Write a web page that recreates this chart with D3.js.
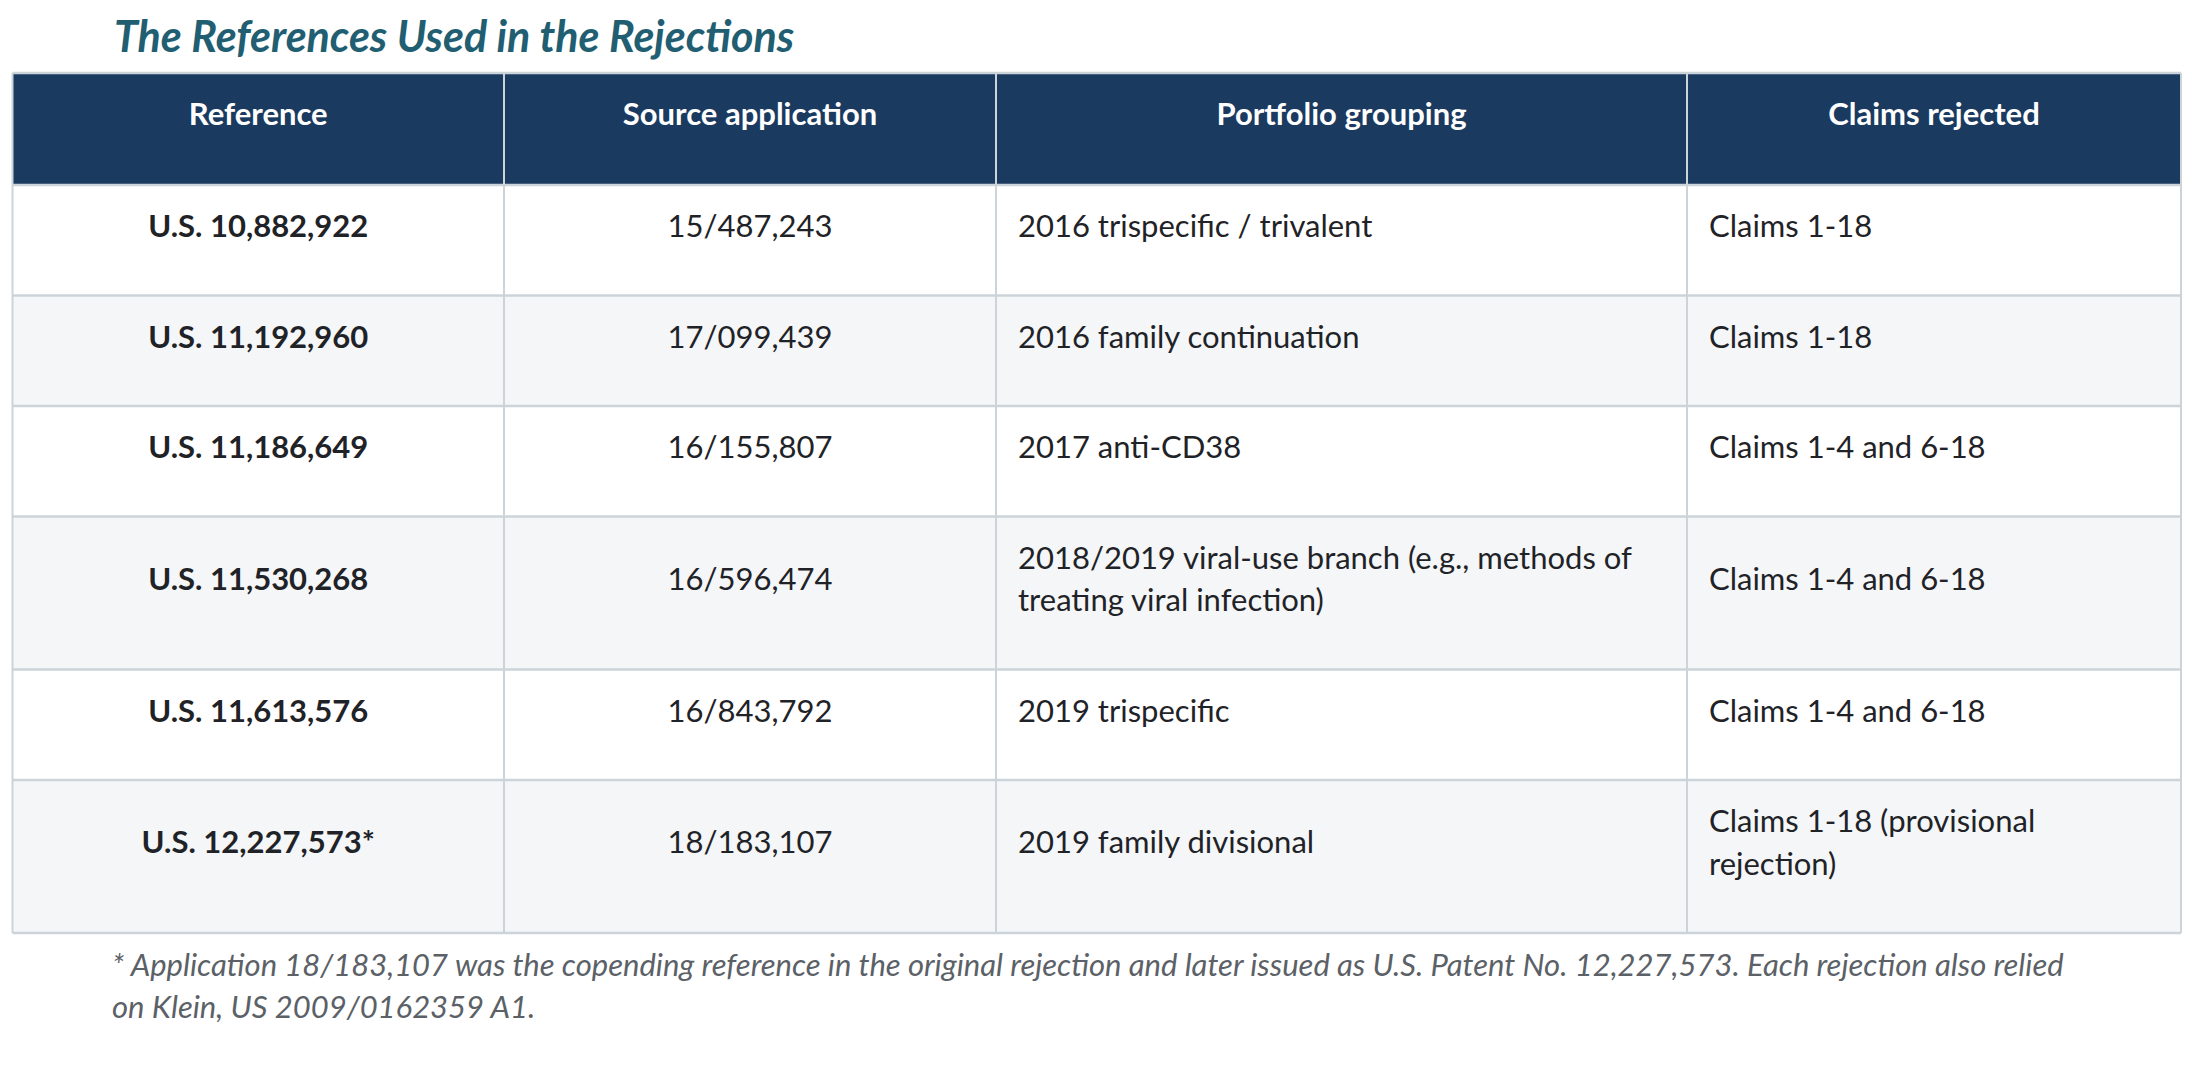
<!DOCTYPE html>
<html>
<head>
<meta charset="utf-8">
<script src="https://cdn.jsdelivr.net/npm/d3@7"></script>
<style>
  html, body { margin: 0; padding: 0; background: #fff; }
  svg text { font-family: Lato, "Open Sans", sans-serif; }
</style>
</head>
<body>
<div id="chart"></div>
<script>

// Data
// ==============================================

var title = "The References Used in the Rejections";

var columns = ["Reference", "Source application", "Portfolio grouping", "Claims rejected"];

var references = [
	"U.S. 10,882,922",
	"U.S. 11,192,960",
	"U.S. 11,186,649",
	"U.S. 11,530,268",
	"U.S. 11,613,576",
	"U.S. 12,227,573*"
];

var sourceApps = [
	"15/487,243",
	"17/099,439",
	"16/155,807",
	"16/596,474",
	"16/843,792",
	"18/183,107"
];

var groupings = [
	"2016 trispecific / trivalent",
	"2016 family continuation",
	"2017 anti-CD38",
	"2018/2019 viral-use branch (e.g., methods of\ntreating viral infection)",
	"2019 trispecific",
	"2019 family divisional"
];

var claims = [
	"Claims 1-18",
	"Claims 1-18",
	"Claims 1-4 and 6-18",
	"Claims 1-4 and 6-18",
	"Claims 1-4 and 6-18",
	"Claims 1-18 (provisional\nrejection)"
];

var footnote = [
	"* Application 18/183,107 was the copending reference in the original rejection and later issued as U.S. Patent No. 12,227,573. Each rejection also relied",
	"on Klein, US 2009/0162359 A1."
];

// Layout
// ==============================================

var width = 2192, height = 1068,
	colEdges = [12.5, 504, 996, 1687, 2181],
	tableTop = 73,
	headerH = 112,
	baseRowH = 110.5,
	lineH = 42.5,
	firstBase = 52,
	pad = 22,
	fontSize = 31;

var navy = "#1b3a5f",
	grid = "#ccd4da",
	ink = "#1f2327";

var rows = references.map(function(r, i){
	var cells = [references[i], sourceApps[i], groupings[i], claims[i]].map(function(t){ return t.split("\n"); });
	return { cells: cells, lines: d3.max(cells, function(c){ return c.length; }), odd: i % 2 === 1 };
});

rows.forEach(function(r){ r.h = baseRowH + lineH * (r.lines - 1); });
var rowTops = [tableTop + headerH].concat(Array.from(d3.cumsum(rows, function(r){ return r.h; }), function(s){ return tableTop + headerH + s; }));
var tableBottom = rowTops[rowTops.length - 1];

var colX = d3.scaleOrdinal().domain(d3.range(columns.length)).range(colEdges.slice(0, -1));
var colW = function(j){ return colEdges[j + 1] - colEdges[j]; };
var align = ["middle", "middle", "start", "start"];
var textX = function(j){ return align[j] === "middle" ? colX(j) + colW(j) / 2 : colX(j) + pad; };

var svg = d3.select("#chart").append("svg")
	.attr("width", width)
	.attr("height", height);

// Title
// ==============================================

svg.append("text")
	.attr("x", 114)
	.attr("y", 52)
	.attr("fill", "#215e72")
	.style("font-size", "43px")
	.style("font-weight", 700)
	.style("font-style", "italic")
	.text(title);

// Header
// ==============================================

svg.append("rect")
	.attr("x", colEdges[0])
	.attr("y", tableTop)
	.attr("width", colEdges[4] - colEdges[0])
	.attr("height", headerH)
	.attr("fill", navy);

svg.append("g").selectAll("text")
	.data(columns)
	.enter().append("text")
		.attr("x", function(d, j){ return colX(j) + colW(j) / 2; })
		.attr("y", tableTop + firstBase)
		.attr("text-anchor", "middle")
		.attr("fill", "#fff")
		.style("font-size", fontSize + "px")
		.style("font-weight", 700)
		.text(function(d){ return d; });

// Body rows
// ==============================================

var rowG = svg.append("g").selectAll("g.row")
	.data(rows)
	.enter().append("g")
		.attr("class", "row")
		.attr("transform", function(d, i){ return "translate(0," + rowTops[i] + ")"; });

rowG.append("rect")
	.attr("x", colEdges[0])
	.attr("width", colEdges[4] - colEdges[0])
	.attr("height", function(d){ return d.h; })
	.attr("fill", function(d){ return d.odd ? "#f4f6f8" : "#fff"; });

rowG.each(function(row){
	var g = d3.select(this);
	row.cells.forEach(function(lines, j){
		var shift = (row.lines - lines.length) * lineH / 2;
		g.selectAll("text.c" + j)
			.data(lines)
			.enter().append("text")
				.attr("class", "c" + j)
				.attr("x", textX(j))
				.attr("y", function(d, k){ return firstBase + shift + k * lineH; })
				.attr("text-anchor", align[j])
				.attr("fill", ink)
				.style("font-size", fontSize + "px")
				.style("font-weight", j === 0 ? 700 : 400)
				.text(function(d){ return d; });
	});
});

// Grid lines
// ==============================================

svg.append("g").selectAll("line.h")
	.data(rowTops)
	.enter().append("line")
		.attr("x1", colEdges[0]).attr("x2", colEdges[4])
		.attr("y1", function(d){ return d; }).attr("y2", function(d){ return d; })
		.attr("stroke", grid)
		.attr("stroke-width", 2.5);

svg.append("g").selectAll("line.v")
	.data(colEdges)
	.enter().append("line")
		.attr("x1", function(d){ return d; }).attr("x2", function(d){ return d; })
		.attr("y1", tableTop).attr("y2", tableBottom)
		.attr("stroke", grid)
		.attr("stroke-width", 2);

svg.append("line")
	.attr("x1", colEdges[0]).attr("x2", colEdges[4])
	.attr("y1", tableTop).attr("y2", tableTop)
	.attr("stroke", grid)
	.attr("stroke-width", 2.5);

// Footnote
// ==============================================

svg.append("g").selectAll("text")
	.data(footnote)
	.enter().append("text")
		.attr("x", 112)
		.attr("y", function(d, i){ return tableBottom + 43 + i * 42; })
		.attr("fill", "#5b6167")
		.style("font-size", "31px")
		.style("font-style", "italic")
		.text(function(d){ return d; });

</script>
</body>
</html>
